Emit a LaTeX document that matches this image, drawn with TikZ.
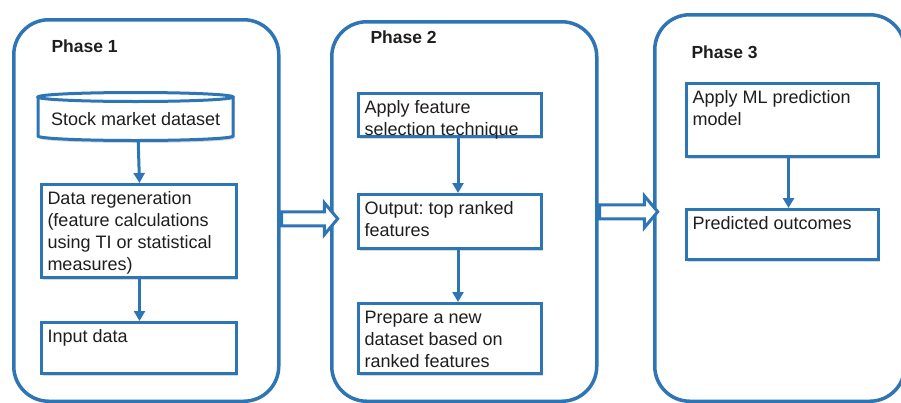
\documentclass[tikz,border=0pt]{standalone}
\usepackage{fontspec}
\setmainfont{Liberation Sans}
\frenchspacing
\usetikzlibrary{arrows.meta,shadows,calc,shapes.arrows}
\definecolor{phaseblue}{RGB}{46,117,182}
\definecolor{inktext}{RGB}{30,30,30}
% top-aligned text block of a given width and height
\newcommand\boxtext[3]{\parbox[c][#2][t]{#1}{\raggedright\strut #3}}
\tikzset{
  phase/.style={draw=phaseblue, line width=3.5pt, rounded corners=35pt,
    anchor=north west, inner sep=0pt},
  phaselabel/.style={anchor=base west, text=inktext,
    font=\bfseries\fontsize{17.5}{21}\selectfont},
  shade/.style={drop shadow={opacity=0.3, shadow xshift=1.5pt, shadow yshift=-2.5pt}},
  stepbox/.style={draw=phaseblue, line width=3pt, fill=white, shade,
    inner xsep=6pt, inner ysep=5pt, anchor=north west, text=inktext,
    font=\fontsize{18}{22}\selectfont},
  flow/.style={draw=phaseblue, line width=3pt,
    -{Triangle[width=11pt,length=10pt]}},
  bigarrow/.style={single arrow, draw=phaseblue, line width=3pt, fill=white,
    inner sep=5.5pt, single arrow head extend=9pt, single arrow tip angle=100,
    shape border rotate=0},
}
\begin{document}
\begin{tikzpicture}[x=1pt,y=-1pt]
\useasboundingbox (0,0) rectangle (901,402);
\fill[white] (0,0) rectangle (901,402);

% phase frames
\node[phase, minimum width=265pt, minimum height=381.5pt] (p1) at (12,18) {};
\node[phase, minimum width=265pt, minimum height=379.5pt] (p2) at (330,20) {};
\node[phase, minimum width=250pt, minimum height=386.5pt] (p3) at (653,13) {};

\node[phaselabel] (l1) at (48,52) {Phase 1};
\node[phaselabel] (l2) at (367,43.5) {Phase 2};
\node[phaselabel] (l3) at (688,58) {Phase 3};

% Phase 1: dataset cylinder and steps
\fill[white, shade] (38,97) -- (38,136)
  arc[start angle=180, end angle=360, x radius=97.5pt, y radius=4.5pt]
  -- (233,97) arc[start angle=0, end angle=180, x radius=97.5pt, y radius=4.5pt] -- cycle;
\draw[phaseblue, line width=3pt] (38,97) -- (38,136)
  arc[start angle=180, end angle=360, x radius=97.5pt, y radius=4.5pt]
  -- (233,97);
\draw[phaseblue, line width=3pt] (135.5,97) ellipse[x radius=97.5pt, y radius=4.5pt];
\node[anchor=north west, minimum width=195pt, minimum height=39pt,
  inner xsep=7pt, text height=18pt, text depth=0pt, text=inktext,
  font=\fontsize{18}{22}\selectfont] (db) at (38,97) {Stock market dataset\hfill};

\node[stepbox] (regen) at (40,183) {\boxtext{183pt}{83pt}{Data regeneration\\(feature calculations\\using TI or statistical\\measures)}};
\node[stepbox] (input) at (40,321) {\boxtext{183pt}{41pt}{Input data}};

\draw[flow] ([xshift=2.5pt,yshift=-4.5pt]db.south) -- ([xshift=0.5pt]regen.north);
\draw[flow] ([xshift=0.5pt]regen.south) -- ([xshift=0.5pt]input.north);

% Phase 2 steps
\node[stepbox] (select) at (357,92) {\boxtext{171pt}{33pt}{Apply feature\\selection technique}};
\node[stepbox] (ranked) at (357,193) {\boxtext{171pt}{44pt}{Output: top ranked\\features}};
\node[stepbox] (newset) at (357,302) {\boxtext{171pt}{60pt}{Prepare a new\\dataset based on\\ranked features}};

\draw[flow] ([xshift=8pt]select.south) -- ([xshift=8pt]ranked.north);
\draw[flow] ([xshift=8pt]ranked.south) -- ([xshift=8pt]newset.north);

% Phase 3 steps
\node[stepbox] (model) at (685,82) {\boxtext{180pt}{63pt}{Apply ML prediction\\model}};
\node[stepbox] (outcome) at (685,208) {\boxtext{180pt}{40pt}{Predicted outcomes}};

\draw[flow] ([xshift=6pt]model.south) -- ([xshift=6pt]outcome.north);

% hand-over arrows between phases
\node[bigarrow, minimum height=56pt] (h1) at ($(p1.east)!0.5!(p2.west)+(1.5,7.75)$) {};
\node[bigarrow, minimum height=58pt] (h2) at ($(p2.east)!0.5!(p3.west)+(0,2)$) {};
\end{tikzpicture}
\end{document}
